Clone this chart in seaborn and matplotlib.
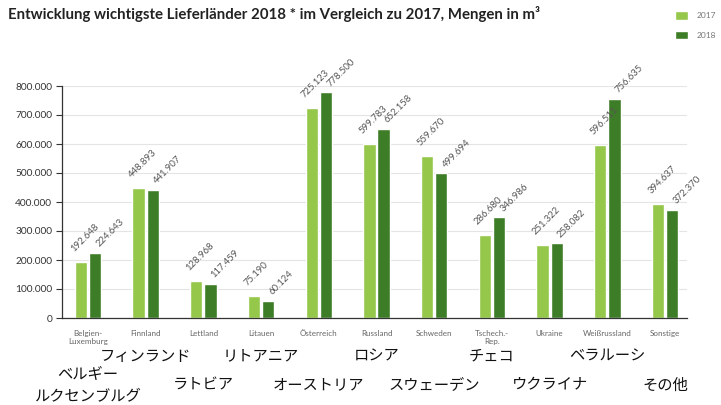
import numpy as np
import pandas as pd
import seaborn as sns
import matplotlib.pyplot as plt
from matplotlib.ticker import FuncFormatter
from matplotlib.transforms import blended_transform_factory

# data
countries = ["Belgien-\nLuxemburg", "Finnland", "Lettland", "Litauen", "Österreich",
             "Russland", "Schweden", "Tschech.-\nRep.", "Ukraine", "Weißrussland", "Sonstige"]
jp_names = ["ベルギー\nルクセンブルグ", "フィンランド", "ラトビア", "リトアニア", "オーストリア",
            "ロシア", "スウェーデン", "チェコ", "ウクライナ", "ベラルーシ", "その他"]
years = ["2017", "2018"]
v2017 = [192648, 448893, 128968, 75190, 725123, 599783, 559670, 286680, 251322, 596511, 394637]
v2018 = [224643, 441907, 117459, 60124, 778500, 652158, 499694, 346986, 258082, 756635, 372370]
yticks = [0, 100000, 200000, 300000, 400000, 500000, 600000, 700000, 800000]
title = "Entwicklung wichtigste Lieferländer 2018 * im Vergleich zu 2017, Mengen in m³"

c17 = "#95c74a"
c18 = "#3e7d27"


def de_fmt(v, pos=None):
    return f"{int(v):,}".replace(",", ".")


df = pd.DataFrame({
    "Land": countries * 2,
    "Jahr": [years[0]] * len(countries) + [years[1]] * len(countries),
    "Menge": v2017 + v2018,
})

sns.set_theme(style="white")
plt.rcParams["font.family"] = ["Lato", "Noto Sans CJK JP", "DejaVu Sans"]

fig = plt.figure(figsize=(7.21, 4.05), dpi=100)
ax = fig.add_axes([62 / 721, 1 - 318 / 405, 625 / 721, 232 / 405])

sns.barplot(data=df, x="Land", y="Menge", hue="Jahr", palette=[c17, c18],
            width=0.49, gap=0.13, saturation=1, ax=ax)

handles, labels = ax.get_legend_handles_labels()
ax.get_legend().remove()

ax.set_xlim(-0.45, 10.38)
ax.set_ylim(0, 800000)
ax.set_yticks(yticks)
ax.yaxis.set_major_formatter(FuncFormatter(de_fmt))
ax.set_xlabel("")
ax.set_ylabel("")

ax.yaxis.grid(True, color="#e4e4e4", lw=0.8)
ax.set_axisbelow(True)
for s in ["top", "right"]:
    ax.spines[s].set_visible(False)
for s in ["left", "bottom"]:
    ax.spines[s].set_color("#333333")
    ax.spines[s].set_linewidth(0.9)

ax.tick_params(axis="y", left=True, length=4, width=0.8, color="#333333",
               labelsize=7.3, labelcolor="#333333", pad=3)
ax.tick_params(axis="x", bottom=False, labelsize=5.8, labelcolor="#666666", pad=2.5)

# value labels, rotated
for cont, vals, off in zip(ax.containers, [v2017, v2018], [(-8.5, 6), (-0.5, 3)]):
    for bar, v in zip(cont, vals):
        ax.annotate(de_fmt(v), (bar.get_x() + bar.get_width() / 2, bar.get_height()),
                    xytext=off, textcoords="offset points", ha="left", va="bottom",
                    rotation=45, fontsize=6.8, color="#555555", annotation_clip=False)

# japanese names under the axis, alternating rows
tr = blended_transform_factory(ax.transData, fig.transFigure)
for i, name in enumerate(jp_names):
    ypix = 356 if i % 2 else 385
    ax.text(i, 1 - ypix / 405, name, transform=tr, ha="center", va="center",
            fontsize=11, family="Noto Sans CJK JP", color="#111111",
            linespacing=1.4, clip_on=False)

fig.text(8 / 721, 1 - 14 / 405, title, fontsize=10.8, fontweight="bold",
         color="#222222", ha="left", va="center")

fig.legend(handles, labels, loc="upper left", bbox_to_anchor=(672 / 721, 1 - 8 / 405),
           frameon=False, fontsize=6, labelcolor="#777777", handlelength=1.5,
           handleheight=1.2, labelspacing=1.3, handletextpad=1.1, borderaxespad=0)

fig.savefig("out.png", dpi=100)
